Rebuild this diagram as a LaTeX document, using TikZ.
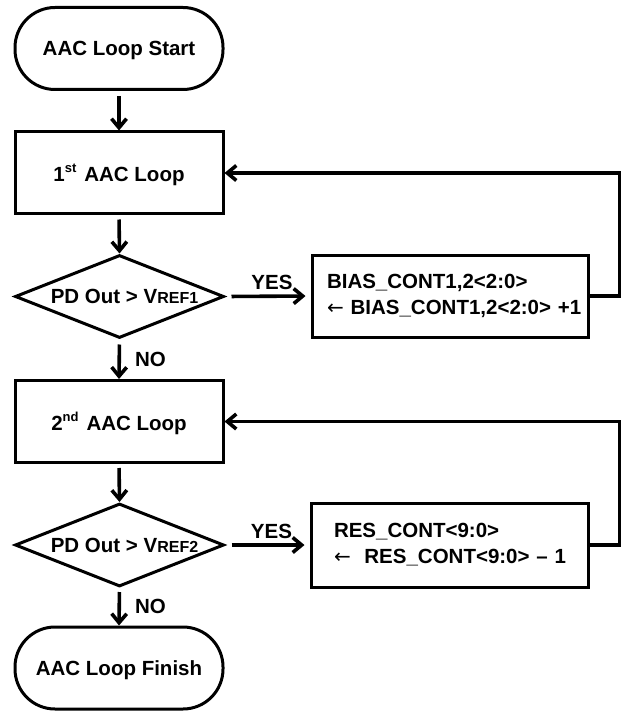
\documentclass[tikz,border=0pt]{standalone}
\usepackage{fontspec}
\setmainfont{Liberation Sans}
\newfontfamily\arrfont{DejaVu Sans}
\usetikzlibrary{shapes.geometric,arrows.meta}
\newcommand\supr[1]{\raisebox{0.42em}{\fontsize{13}{13}\selectfont #1}}
\newcommand\refsub[1]{{\fontsize{16}{16}\selectfont #1}}
\newcommand\larr{{\arrfont\mdseries\fontsize{20}{20}\selectfont ←}}
\begin{document}
\begin{tikzpicture}[x=1pt,y=-1pt,
  font=\fontsize{20.5}{26}\selectfont\bfseries,
  term/.style={draw, line width=3pt, rectangle, rounded corners=40pt,
    minimum width=208pt, minimum height=82pt, inner sep=0pt, text depth=0pt},
  procbox/.style={draw, line width=3pt, rectangle,
    minimum width=208pt, minimum height=82pt, inner sep=0pt, text depth=0pt},
  decis/.style={draw, line width=3pt, diamond, aspect=2.5,
    minimum width=209pt, minimum height=83pt, inner sep=0pt},
  actbox/.style={draw, line width=3pt, rectangle, minimum height=82pt,
    inner ysep=0pt, align=left},
  flow/.style={-{Straight Barb[length=9pt,width=15pt]}, line width=3.6pt},
  yeslbl/.style={above=5pt, inner sep=0pt},
  nolbl/.style={right=14pt, inner sep=0pt}
]
\useasboundingbox (0,0) rectangle (622,711);

\node[term] (start) at (119,48.5) {AAC Loop Start};
\node[procbox] (loop1) at (119,173) {1\supr{st}\hspace{8pt}AAC Loop};
\node[decis] (d1) at (119.5,296.5) {\hspace*{10pt}PD Out > V\refsub{REF1}};
\node[actbox, text width=246pt, inner xsep=15pt] (bias) at (450,296)
  {\mbox{BIAS\_CONT1,2<2:0>}\\\mbox{\larr\ BIAS\_CONT1,2<2:0> +1}};

\node[procbox] (loop2) at (119,421.5) {2\supr{nd}\hspace{8pt}AAC Loop};
\node[decis] (d2) at (119.5,545) {\hspace*{10pt}PD Out > V\refsub{REF2}};
\node[actbox, text width=231pt, inner xsep=23pt, minimum height=84pt] (res) at (449.5,545)
  {\mbox{RES\_CONT<9:0>}\\\mbox{\larr\ \ RES\_CONT<9:0> – 1}};

\node[term] (finish) at (119,668) {AAC Loop Finish};

\draw[flow, shorten <=5pt] (start.south) -- (loop1.north);
\draw[flow, shorten <=4pt] (loop1.south) -- (d1.north);
\draw[flow, shorten <=6pt, shorten >=5pt] (d1.east) -- node[yeslbl, xshift=4pt] {YES} (bias.west);
\draw[flow, shorten <=5pt] (d1.south) -- node[nolbl] {NO} (loop2.north);
\draw[flow] (bias.east) -- ++(30,0) |- (loop1.east);

\draw[flow, shorten <=4pt] (loop2.south) -- (d2.north);
\draw[flow, shorten <=6pt, shorten >=5pt] (d2.east) -- node[yeslbl, xshift=4pt] {YES} (res.west);
\draw[flow, shorten <=4pt] (d2.south) -- node[nolbl] {NO} (finish.north);
\draw[flow] (res.east) -- ++(30,0) |- (loop2.east);
\end{tikzpicture}
\end{document}
